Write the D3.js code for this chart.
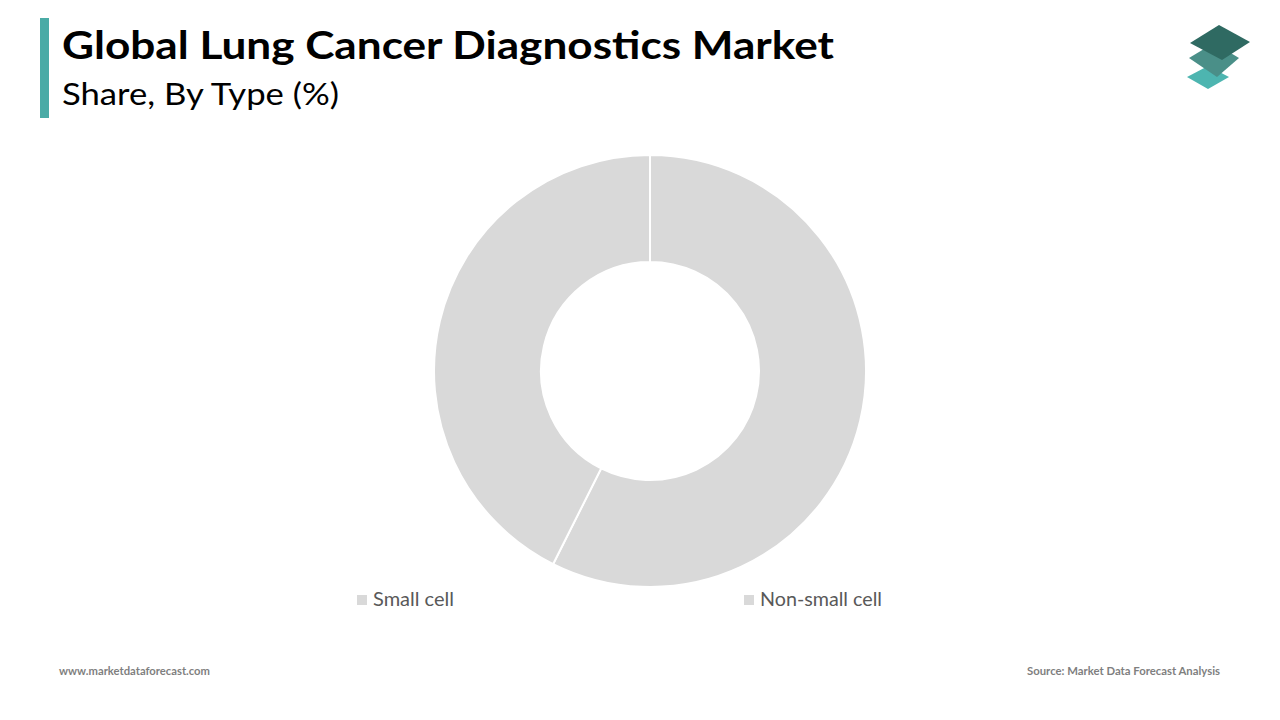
<!DOCTYPE html>
<html>
<head>
<meta charset="utf-8">
<script src="https://cdn.jsdelivr.net/npm/d3@7"></script>
<style>
  html, body { margin: 0; padding: 0; background: #ffffff; }
  svg { display: block; }
</style>
</head>
<body>
<svg id="chart" width="1280" height="720"></svg>
<script>
// ---- data ----
const categories = ["Small cell", "Non-small cell"];
const shares = [57.4, 42.6];
const sliceColors = ["#d9d9d9", "#d9d9d9"];
const titleText = "Global Lung Cancer Diagnostics Market";
const subtitleText = "Share, By Type (%)";
const footerLeft = "www.marketdataforecast.com";
const footerRight = "Source: Market Data Forecast Analysis";

const svg = d3.select("#chart");

// accent bar
svg.append("rect").attr("x", 40).attr("y", 18).attr("width", 9).attr("height", 100).attr("fill", "#4aaba6");

// title
svg.append("text").attr("x", 62).attr("y", 59)
  .attr("font-family", "Lato, 'Open Sans', sans-serif").attr("font-weight", 700)
  .attr("font-size", 39).attr("fill", "#000")
  .attr("textLength", 772).attr("lengthAdjust", "spacingAndGlyphs")
  .text(titleText);
svg.append("text").attr("x", 62).attr("y", 105)
  .attr("font-family", "Lato, 'Open Sans', sans-serif").attr("font-weight", 400)
  .attr("font-size", 31).attr("fill", "#000")
  .attr("textLength", 277).attr("lengthAdjust", "spacingAndGlyphs")
  .text(subtitleText);

// logo
const logo = svg.append("g");
logo.append("polygon").attr("points", "1187,77 1208,66 1229,77 1208,89").attr("fill", "#4db5b0");
logo.append("polygon").attr("points", "1189,58 1214,43 1239,58 1217,77").attr("fill", "#4a8f88");
logo.append("polygon").attr("points", "1190,43 1219,25 1250,42 1222,60").attr("fill", "#2f6a62");

// donut
const cx = 650, cy = 371, outerR = 216, innerR = 109;
const pie = d3.pie().sort(null).value(d => d)(shares);
const arc = d3.arc().innerRadius(innerR).outerRadius(outerR);
svg.append("g").attr("transform", `translate(${cx},${cy})`)
  .selectAll("path").data(pie).join("path")
  .attr("d", arc)
  .attr("fill", (d, i) => sliceColors[i])
  .attr("stroke", "#ffffff").attr("stroke-width", 2);

// legend
const legendX = [357, 744];
const legendW = [81, 122];
const lg = svg.append("g");
categories.forEach((c, i) => {
  lg.append("rect").attr("x", legendX[i]).attr("y", 595).attr("width", 10).attr("height", 10).attr("fill", sliceColors[i]);
  lg.append("text").attr("x", legendX[i] + 16).attr("y", 606)
    .attr("font-family", "Lato, 'Open Sans', sans-serif").attr("font-size", 19).attr("fill", "#595959")
    .attr("textLength", legendW[i]).attr("lengthAdjust", "spacingAndGlyphs")
    .text(c);
});

// footer
svg.append("text").attr("x", 59).attr("y", 675)
  .attr("font-family", "Lato, sans-serif").attr("font-weight", 700).attr("font-size", 11).attr("fill", "#7f7f7f")
  .attr("textLength", 151).attr("lengthAdjust", "spacingAndGlyphs")
  .text(footerLeft);
svg.append("text").attr("x", 1027).attr("y", 675)
  .attr("font-family", "Lato, sans-serif").attr("font-weight", 700).attr("font-size", 11).attr("fill", "#7f7f7f")
  .attr("textLength", 193).attr("lengthAdjust", "spacingAndGlyphs")
  .text(footerRight);
</script>
</body>
</html>
